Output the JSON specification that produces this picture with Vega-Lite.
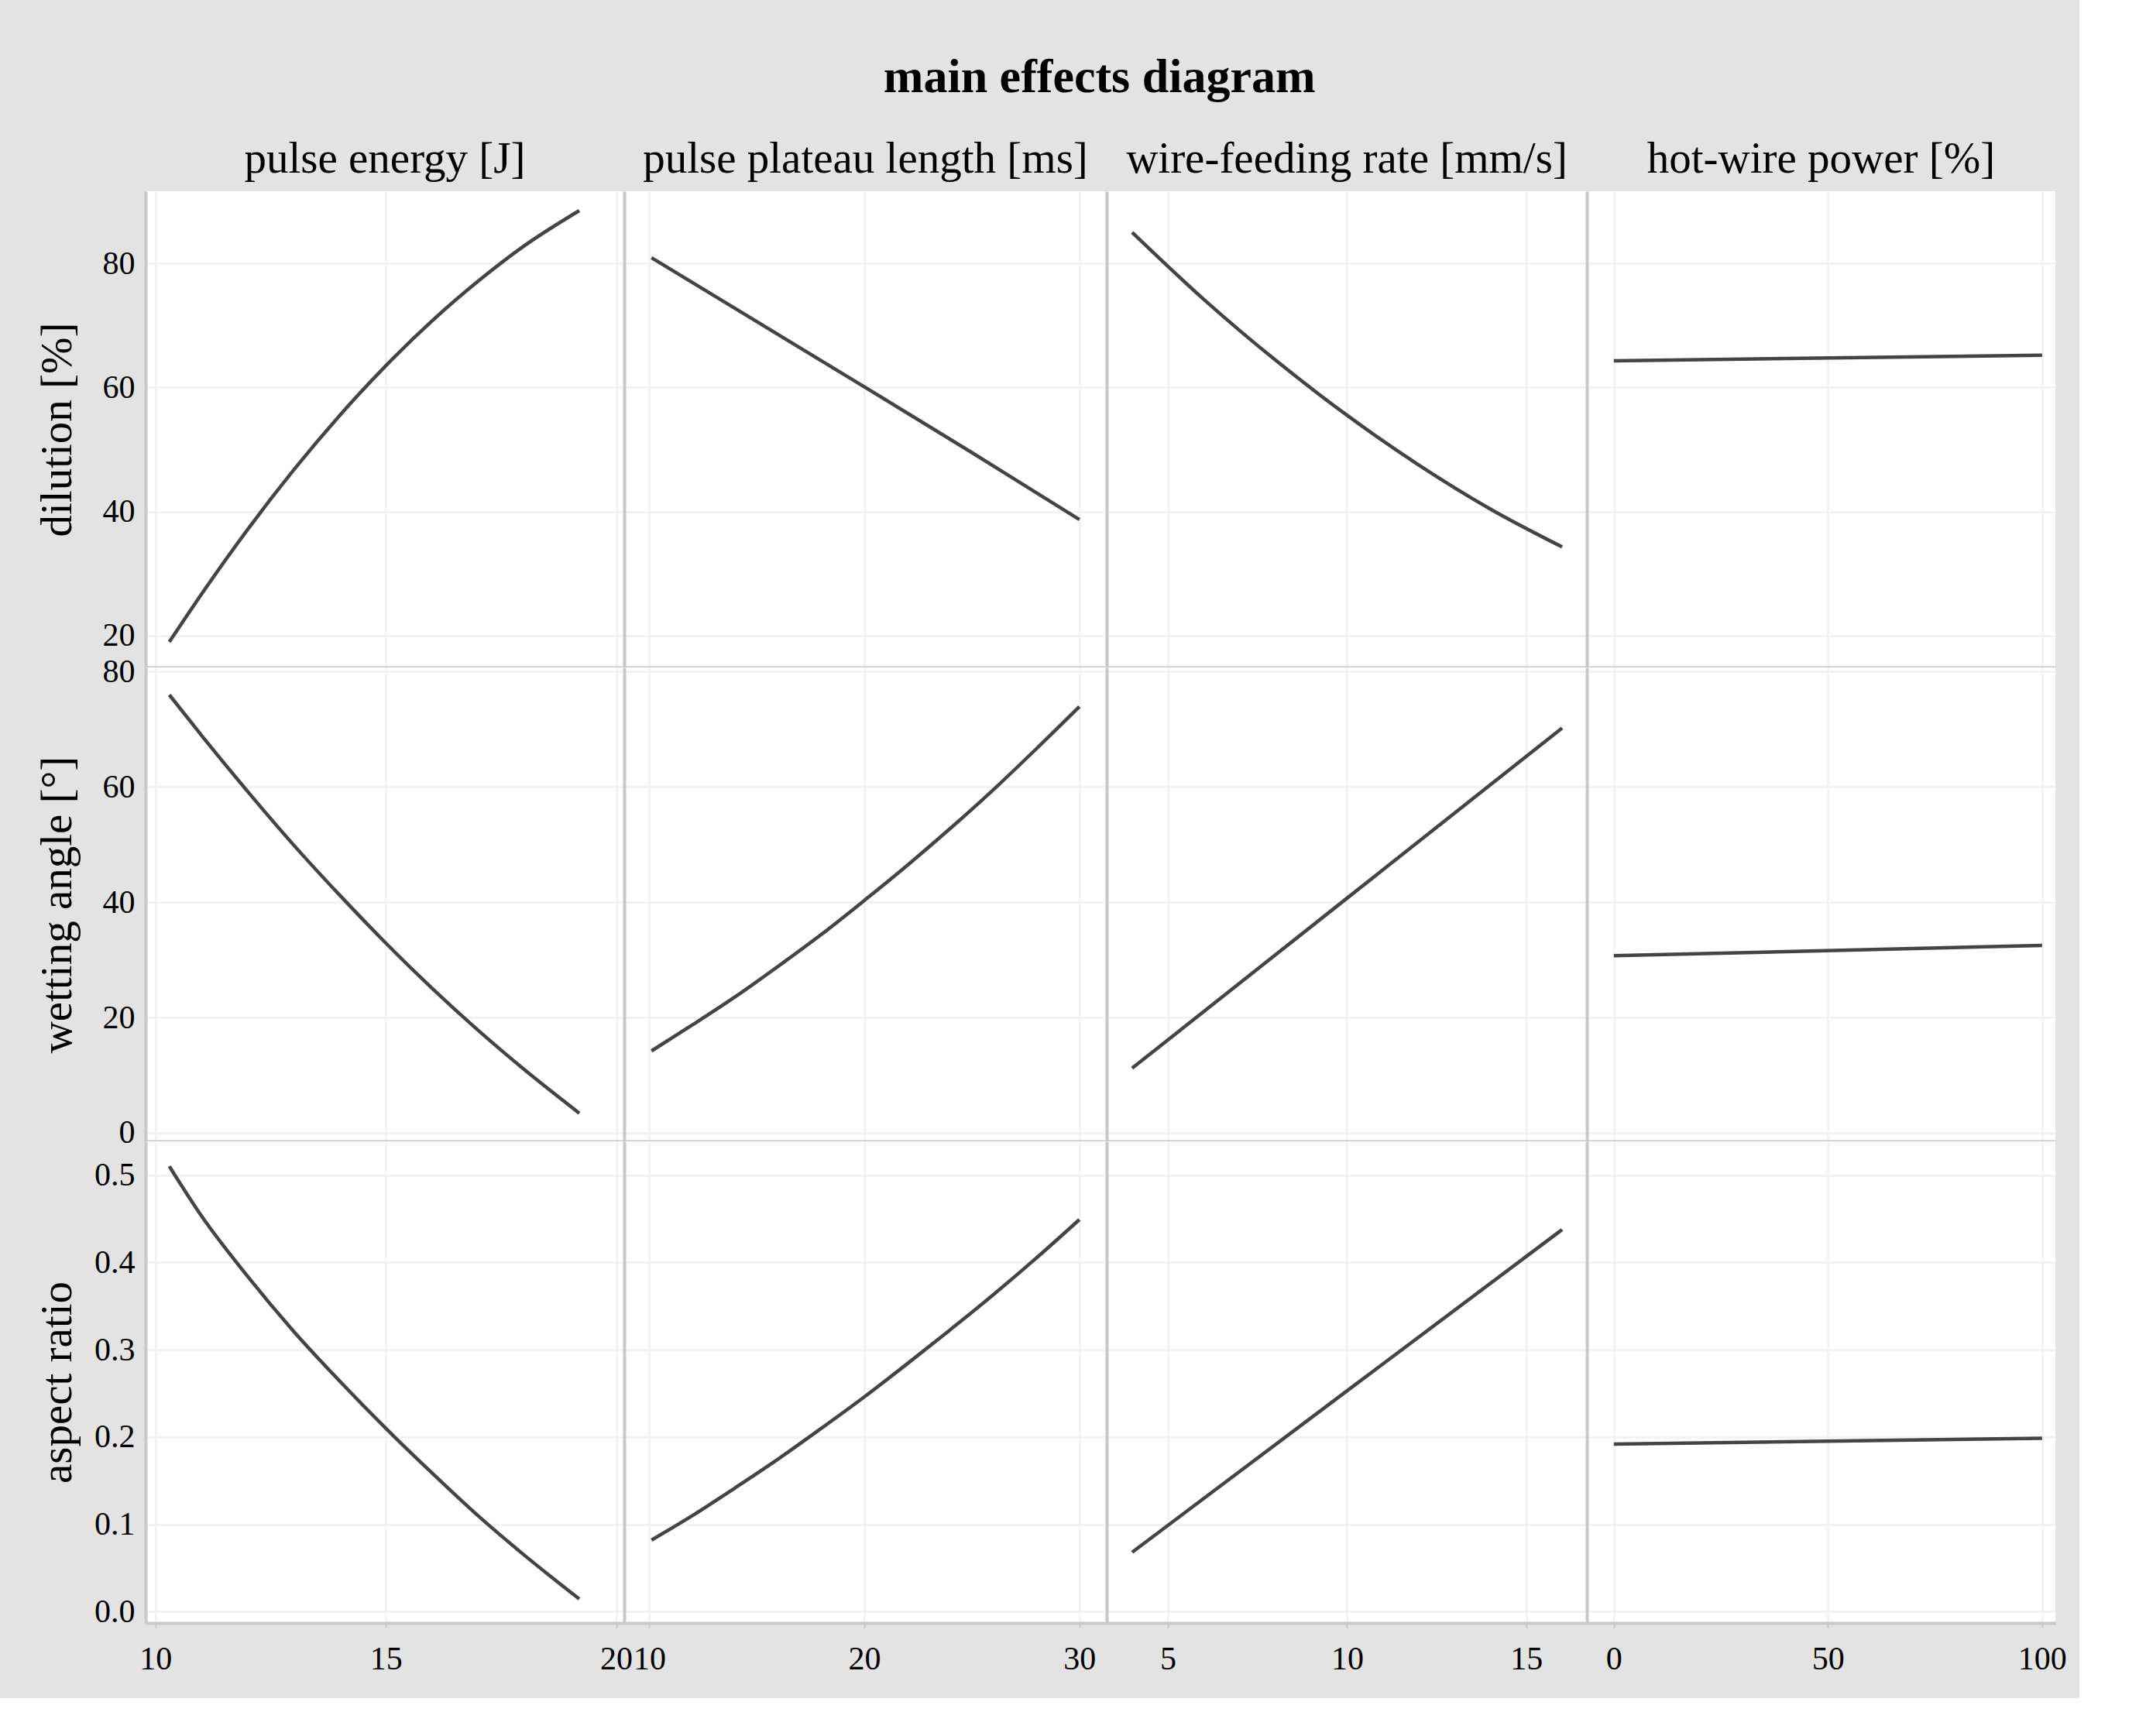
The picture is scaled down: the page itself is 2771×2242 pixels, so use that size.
{
  "$schema": "https://vega.github.io/schema/vega-lite/v6.json",
  "background": "#e3e3e3",
  "padding": {"left": 45, "top": 69, "right": 16, "bottom": 30},
  "title": {"text": "main effects diagram", "font": "Liberation Serif", "fontSize": 62, "fontWeight": "bold", "color": "#000000", "anchor": "middle", "offset": 45, "dx": 63},
  "columns": 4,
  "spacing": 0,
  "bounds": "flush",
  "align": "each",
  "datasets": {
    "curves": [
      {"r": "dil", "f": "pe", "x": 10.3, "y": 19.0},
      {"r": "dil", "f": "pe", "x": 11, "y": 26.7},
      {"r": "dil", "f": "pe", "x": 12, "y": 37.1},
      {"r": "dil", "f": "pe", "x": 13, "y": 46.7},
      {"r": "dil", "f": "pe", "x": 14, "y": 55.5},
      {"r": "dil", "f": "pe", "x": 15, "y": 63.5},
      {"r": "dil", "f": "pe", "x": 16, "y": 70.7},
      {"r": "dil", "f": "pe", "x": 17, "y": 77.1},
      {"r": "dil", "f": "pe", "x": 18, "y": 82.8},
      {"r": "dil", "f": "pe", "x": 19.2, "y": 88.5},
      {"r": "dil", "f": "pl", "x": 10.1, "y": 80.9},
      {"r": "dil", "f": "pl", "x": 15, "y": 70.6},
      {"r": "dil", "f": "pl", "x": 20, "y": 60.1},
      {"r": "dil", "f": "pl", "x": 25, "y": 49.5},
      {"r": "dil", "f": "pl", "x": 30, "y": 38.7},
      {"r": "dil", "f": "wf", "x": 4, "y": 85.0},
      {"r": "dil", "f": "wf", "x": 6, "y": 74.2},
      {"r": "dil", "f": "wf", "x": 8, "y": 64.4},
      {"r": "dil", "f": "wf", "x": 10, "y": 55.5},
      {"r": "dil", "f": "wf", "x": 12, "y": 47.5},
      {"r": "dil", "f": "wf", "x": 14, "y": 40.4},
      {"r": "dil", "f": "wf", "x": 16, "y": 34.3},
      {"r": "dil", "f": "hw", "x": 0, "y": 64.3},
      {"r": "dil", "f": "hw", "x": 100, "y": 65.2},
      {"r": "wet", "f": "pe", "x": 10.3, "y": 75.95},
      {"r": "wet", "f": "pe", "x": 11, "y": 68.9},
      {"r": "wet", "f": "pe", "x": 12, "y": 59.2},
      {"r": "wet", "f": "pe", "x": 13, "y": 49.9},
      {"r": "wet", "f": "pe", "x": 14, "y": 41.2},
      {"r": "wet", "f": "pe", "x": 15, "y": 32.9},
      {"r": "wet", "f": "pe", "x": 16, "y": 25.1},
      {"r": "wet", "f": "pe", "x": 17, "y": 17.8},
      {"r": "wet", "f": "pe", "x": 18, "y": 11.0},
      {"r": "wet", "f": "pe", "x": 19.2, "y": 3.4},
      {"r": "wet", "f": "pl", "x": 10.1, "y": 14.2},
      {"r": "wet", "f": "pl", "x": 12, "y": 18.7},
      {"r": "wet", "f": "pl", "x": 14, "y": 23.6},
      {"r": "wet", "f": "pl", "x": 16, "y": 28.9},
      {"r": "wet", "f": "pl", "x": 18, "y": 34.4},
      {"r": "wet", "f": "pl", "x": 20, "y": 40.3},
      {"r": "wet", "f": "pl", "x": 22, "y": 46.4},
      {"r": "wet", "f": "pl", "x": 24, "y": 52.8},
      {"r": "wet", "f": "pl", "x": 26, "y": 59.5},
      {"r": "wet", "f": "pl", "x": 28, "y": 66.6},
      {"r": "wet", "f": "pl", "x": 30, "y": 73.9},
      {"r": "wet", "f": "wf", "x": 4, "y": 11.2},
      {"r": "wet", "f": "wf", "x": 10, "y": 40.7},
      {"r": "wet", "f": "wf", "x": 16, "y": 70.2},
      {"r": "wet", "f": "hw", "x": 0, "y": 30.7},
      {"r": "wet", "f": "hw", "x": 100, "y": 32.5},
      {"r": "asp", "f": "pe", "x": 10.3, "y": 0.510},
      {"r": "asp", "f": "pe", "x": 11, "y": 0.453},
      {"r": "asp", "f": "pe", "x": 12, "y": 0.384},
      {"r": "asp", "f": "pe", "x": 13, "y": 0.321},
      {"r": "asp", "f": "pe", "x": 14, "y": 0.264},
      {"r": "asp", "f": "pe", "x": 15, "y": 0.210},
      {"r": "asp", "f": "pe", "x": 16, "y": 0.159},
      {"r": "asp", "f": "pe", "x": 17, "y": 0.110},
      {"r": "asp", "f": "pe", "x": 18, "y": 0.065},
      {"r": "asp", "f": "pe", "x": 19.2, "y": 0.0145},
      {"r": "asp", "f": "pl", "x": 10.1, "y": 0.082},
      {"r": "asp", "f": "pl", "x": 12, "y": 0.110},
      {"r": "asp", "f": "pl", "x": 14, "y": 0.142},
      {"r": "asp", "f": "pl", "x": 16, "y": 0.175},
      {"r": "asp", "f": "pl", "x": 18, "y": 0.210},
      {"r": "asp", "f": "pl", "x": 20, "y": 0.246},
      {"r": "asp", "f": "pl", "x": 22, "y": 0.284},
      {"r": "asp", "f": "pl", "x": 24, "y": 0.323},
      {"r": "asp", "f": "pl", "x": 26, "y": 0.363},
      {"r": "asp", "f": "pl", "x": 28, "y": 0.405},
      {"r": "asp", "f": "pl", "x": 30, "y": 0.449},
      {"r": "asp", "f": "wf", "x": 4, "y": 0.068},
      {"r": "asp", "f": "wf", "x": 10, "y": 0.253},
      {"r": "asp", "f": "wf", "x": 16, "y": 0.4375},
      {"r": "asp", "f": "hw", "x": 0, "y": 0.192},
      {"r": "asp", "f": "hw", "x": 100, "y": 0.1985}
    ]
  },
  "concat": [
    {
      "width": 618, "height": 615,
      "title": {"text": "pulse energy [J]", "font": "Liberation Serif", "fontSize": 57, "fontWeight": "normal", "color": "#000000", "anchor": "middle", "offset": 12},
      "data": {"name": "curves"},
      "transform": [{"filter": "datum.r == 'dil' && datum.f == 'pe'"}],
      "mark": {"type": "line", "color": "#444444", "strokeWidth": 4.5, "interpolate": "monotone"},
      "encoding": {
        "x": {"field": "x", "type": "quantitative", "scale": {"domain": [9.785, 20.175], "nice": false, "zero": false}, "axis": {"values": [10, 15, 20], "labels": false, "title": null}},
        "y": {"field": "y", "type": "quantitative", "scale": {"domain": [14.87, 91.62], "nice": false, "zero": false}, "axis": {"values": [20, 40, 60, 80], "title": "dilution [%]"}}
      }
    },
    {
      "width": 623, "height": 615,
      "title": {"text": "pulse plateau length [ms]", "font": "Liberation Serif", "fontSize": 57, "fontWeight": "normal", "color": "#000000", "anchor": "middle", "offset": 12},
      "data": {"name": "curves"},
      "transform": [{"filter": "datum.r == 'dil' && datum.f == 'pl'"}],
      "mark": {"type": "line", "color": "#444444", "strokeWidth": 4.5, "interpolate": "monotone"},
      "encoding": {
        "x": {"field": "x", "type": "quantitative", "scale": {"domain": [8.83, 31.27], "nice": false, "zero": false}, "axis": {"values": [10, 20, 30], "labels": false, "title": null}},
        "y": {"field": "y", "type": "quantitative", "scale": {"domain": [14.87, 91.62], "nice": false, "zero": false}, "axis": {"values": [20, 40, 60, 80], "labels": false, "title": null}}
      }
    },
    {
      "width": 620, "height": 615,
      "title": {"text": "wire-feeding rate [mm/s]", "font": "Liberation Serif", "fontSize": 57, "fontWeight": "normal", "color": "#000000", "anchor": "middle", "offset": 12},
      "data": {"name": "curves"},
      "transform": [{"filter": "datum.r == 'dil' && datum.f == 'wf'"}],
      "mark": {"type": "line", "color": "#444444", "strokeWidth": 4.5, "interpolate": "monotone"},
      "encoding": {
        "x": {"field": "x", "type": "quantitative", "scale": {"domain": [3.29, 16.69], "nice": false, "zero": false}, "axis": {"values": [5, 10, 15], "labels": false, "title": null}},
        "y": {"field": "y", "type": "quantitative", "scale": {"domain": [14.87, 91.62], "nice": false, "zero": false}, "axis": {"values": [20, 40, 60, 80], "labels": false, "title": null}}
      }
    },
    {
      "width": 605, "height": 615,
      "title": {"text": "hot-wire power [%]", "font": "Liberation Serif", "fontSize": 57, "fontWeight": "normal", "color": "#000000", "anchor": "middle", "offset": 12},
      "data": {"name": "curves"},
      "transform": [{"filter": "datum.r == 'dil' && datum.f == 'hw'"}],
      "mark": {"type": "line", "color": "#444444", "strokeWidth": 4.5, "interpolate": "monotone"},
      "encoding": {
        "x": {"field": "x", "type": "quantitative", "scale": {"domain": [-6.3, 103.1], "nice": false, "zero": false}, "axis": {"values": [0, 50, 100], "labels": false, "title": null}},
        "y": {"field": "y", "type": "quantitative", "scale": {"domain": [14.87, 91.62], "nice": false, "zero": false}, "axis": {"values": [20, 40, 60, 80], "labels": false, "title": null}}
      }
    },
    {
      "width": 618, "height": 612,
      "data": {"name": "curves"},
      "transform": [{"filter": "datum.r == 'wet' && datum.f == 'pe'"}],
      "mark": {"type": "line", "color": "#444444", "strokeWidth": 4.5, "interpolate": "monotone"},
      "encoding": {
        "x": {"field": "x", "type": "quantitative", "scale": {"domain": [9.785, 20.175], "nice": false, "zero": false}, "axis": {"values": [10, 15, 20], "labels": false, "title": null}},
        "y": {"field": "y", "type": "quantitative", "scale": {"domain": [-1.48, 80.7], "nice": false, "zero": false}, "axis": {"values": [0, 20, 40, 60, 80], "title": "wetting angle [°]"}}
      }
    },
    {
      "width": 623, "height": 612,
      "data": {"name": "curves"},
      "transform": [{"filter": "datum.r == 'wet' && datum.f == 'pl'"}],
      "mark": {"type": "line", "color": "#444444", "strokeWidth": 4.5, "interpolate": "monotone"},
      "encoding": {
        "x": {"field": "x", "type": "quantitative", "scale": {"domain": [8.83, 31.27], "nice": false, "zero": false}, "axis": {"values": [10, 20, 30], "labels": false, "title": null}},
        "y": {"field": "y", "type": "quantitative", "scale": {"domain": [-1.48, 80.7], "nice": false, "zero": false}, "axis": {"values": [0, 20, 40, 60, 80], "labels": false, "title": null}}
      }
    },
    {
      "width": 620, "height": 612,
      "data": {"name": "curves"},
      "transform": [{"filter": "datum.r == 'wet' && datum.f == 'wf'"}],
      "mark": {"type": "line", "color": "#444444", "strokeWidth": 4.5, "interpolate": "monotone"},
      "encoding": {
        "x": {"field": "x", "type": "quantitative", "scale": {"domain": [3.29, 16.69], "nice": false, "zero": false}, "axis": {"values": [5, 10, 15], "labels": false, "title": null}},
        "y": {"field": "y", "type": "quantitative", "scale": {"domain": [-1.48, 80.7], "nice": false, "zero": false}, "axis": {"values": [0, 20, 40, 60, 80], "labels": false, "title": null}}
      }
    },
    {
      "width": 605, "height": 612,
      "data": {"name": "curves"},
      "transform": [{"filter": "datum.r == 'wet' && datum.f == 'hw'"}],
      "mark": {"type": "line", "color": "#444444", "strokeWidth": 4.5, "interpolate": "monotone"},
      "encoding": {
        "x": {"field": "x", "type": "quantitative", "scale": {"domain": [-6.3, 103.1], "nice": false, "zero": false}, "axis": {"values": [0, 50, 100], "labels": false, "title": null}},
        "y": {"field": "y", "type": "quantitative", "scale": {"domain": [-1.48, 80.7], "nice": false, "zero": false}, "axis": {"values": [0, 20, 40, 60, 80], "labels": false, "title": null}}
      }
    },
    {
      "width": 618, "height": 622,
      "data": {"name": "curves"},
      "transform": [{"filter": "datum.r == 'asp' && datum.f == 'pe'"}],
      "mark": {"type": "line", "color": "#444444", "strokeWidth": 4.5, "interpolate": "monotone"},
      "encoding": {
        "x": {"field": "x", "type": "quantitative", "scale": {"domain": [9.785, 20.175], "nice": false, "zero": false}, "axis": {"values": [10, 15, 20], "title": null}},
        "y": {"field": "y", "type": "quantitative", "scale": {"domain": [-0.0129, 0.5386], "nice": false, "zero": false}, "axis": {"values": [0, 0.1, 0.2, 0.3, 0.4, 0.5], "format": ".1f", "title": "aspect ratio"}}
      }
    },
    {
      "width": 623, "height": 622,
      "data": {"name": "curves"},
      "transform": [{"filter": "datum.r == 'asp' && datum.f == 'pl'"}],
      "mark": {"type": "line", "color": "#444444", "strokeWidth": 4.5, "interpolate": "monotone"},
      "encoding": {
        "x": {"field": "x", "type": "quantitative", "scale": {"domain": [8.83, 31.27], "nice": false, "zero": false}, "axis": {"values": [10, 20, 30], "title": null}},
        "y": {"field": "y", "type": "quantitative", "scale": {"domain": [-0.0129, 0.5386], "nice": false, "zero": false}, "axis": {"values": [0, 0.1, 0.2, 0.3, 0.4, 0.5], "labels": false, "title": null}}
      }
    },
    {
      "width": 620, "height": 622,
      "data": {"name": "curves"},
      "transform": [{"filter": "datum.r == 'asp' && datum.f == 'wf'"}],
      "mark": {"type": "line", "color": "#444444", "strokeWidth": 4.5, "interpolate": "monotone"},
      "encoding": {
        "x": {"field": "x", "type": "quantitative", "scale": {"domain": [3.29, 16.69], "nice": false, "zero": false}, "axis": {"values": [5, 10, 15], "title": null}},
        "y": {"field": "y", "type": "quantitative", "scale": {"domain": [-0.0129, 0.5386], "nice": false, "zero": false}, "axis": {"values": [0, 0.1, 0.2, 0.3, 0.4, 0.5], "labels": false, "title": null}}
      }
    },
    {
      "width": 605, "height": 622,
      "data": {"name": "curves"},
      "transform": [{"filter": "datum.r == 'asp' && datum.f == 'hw'"}],
      "mark": {"type": "line", "color": "#444444", "strokeWidth": 4.5, "interpolate": "monotone"},
      "encoding": {
        "x": {"field": "x", "type": "quantitative", "scale": {"domain": [-6.3, 103.1], "nice": false, "zero": false}, "axis": {"values": [0, 50, 100], "title": null}},
        "y": {"field": "y", "type": "quantitative", "scale": {"domain": [-0.0129, 0.5386], "nice": false, "zero": false}, "axis": {"values": [0, 0.1, 0.2, 0.3, 0.4, 0.5], "labels": false, "title": null}}
      }
    }
  ],
  "config": {
    "view": {"fill": "white", "stroke": null},
    "axis": {
      "domainColor": "#c8c8c8", "domainWidth": 4,
      "gridColor": "#f3f3f3", "gridWidth": 3,
      "tickColor": "#c8c8c8", "tickWidth": 2, "tickSize": 6,
      "labelFont": "Liberation Serif", "labelFontSize": 42, "labelColor": "#000000", "labelFlush": false,
      "titleFont": "Liberation Serif", "titleFontSize": 57, "titleFontWeight": "normal", "titleColor": "#000000"
    },
    "axisX": {"labelPadding": 20},
    "axisY": {"ticks": false, "labelPadding": 14, "titlePadding": 15, "minExtent": 70, "maxExtent": 70}
  }
}
